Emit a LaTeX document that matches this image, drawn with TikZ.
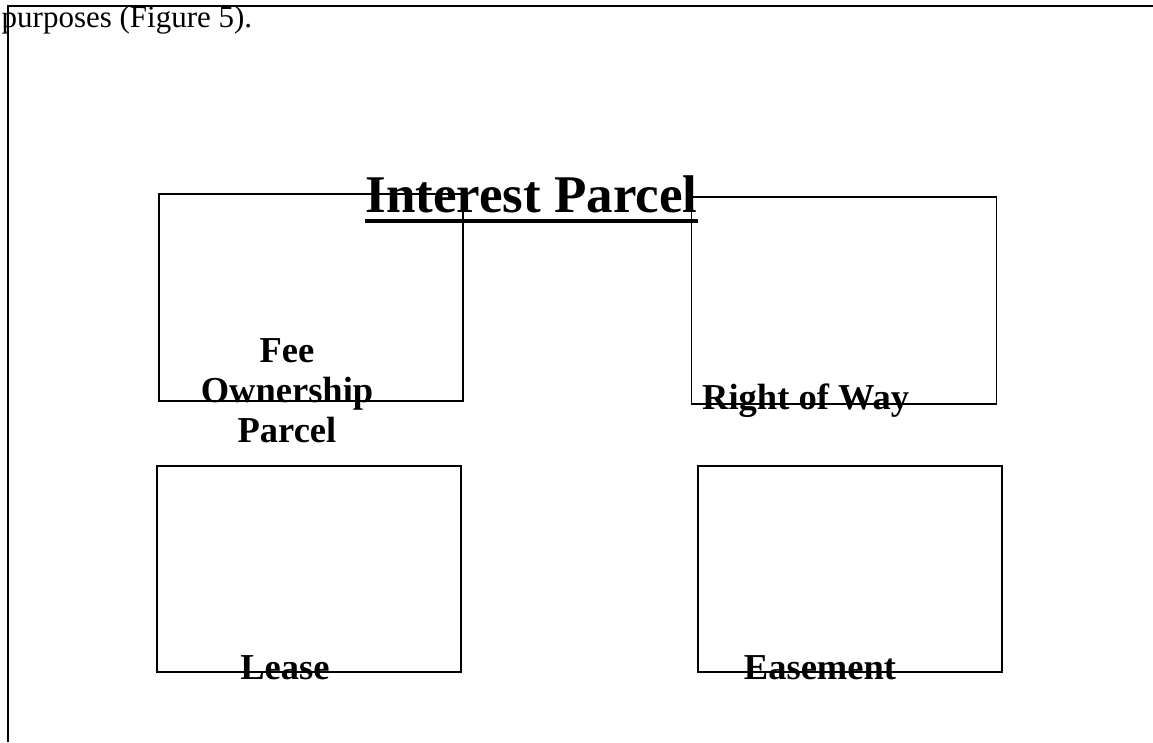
\documentclass[tikz,border=0pt]{standalone}
\usepackage{fontspec}
\setmainfont{Liberation Serif}
\begin{document}
\begin{tikzpicture}[x=1pt,y=-1pt,
  box/.style={draw, line width=1.5pt, inner sep=0pt},
  lbl/.style={inner sep=0pt, font=\fontsize{36.5}{40}\selectfont\bfseries, align=center},
  frameline/.style={line width=2pt}]
\useasboundingbox (0,0) rectangle (1153,742);
% frame
\coordinate (fbl) at (8,742);
\coordinate (ftl) at (8,6);
\coordinate (ftr) at (1153,6);
\draw[frameline] (fbl) -- (ftl) -- (ftr);
% top text
\node[anchor=base west, inner sep=0pt, font=\fontsize{31}{34}\selectfont] (intro) at (1.5,27) {purposes (Figure 5).};
% boxes
\node[box, minimum width=304pt, minimum height=207pt] (fee) at (311,297.5) {};
\node[box, minimum width=305pt, minimum height=207pt] (row) at (844,300.5) {};
\node[box, minimum width=304pt, minimum height=206pt] (lease) at (309,569) {};
\node[box, minimum width=304pt, minimum height=206pt] (ease) at (850,569) {};
% title
\node[anchor=base, inner sep=0pt, font=\fontsize{53}{57}\selectfont\bfseries] (title) at (531.5,212) {Interest Parcel};
\draw[line width=4pt] ([yshift=-9pt]title.base west) -- ([yshift=-9pt]title.base east);
% labels
\node[lbl, anchor=base] (feel) at (287,442) {Fee\\Ownership\\Parcel};
\node[lbl, anchor=base west] (rowl) at (702,409) {Right of Way};
\node[lbl, anchor=base] (leasel) at (285,679) {Lease};
\node[lbl, anchor=base] (easel) at (820,679) {Easement};
\end{tikzpicture}
\end{document}
